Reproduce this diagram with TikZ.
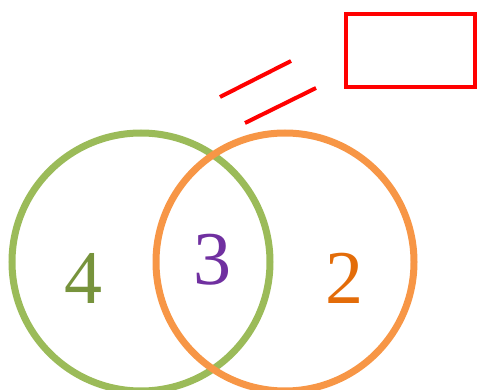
\documentclass[tikz,border=0pt]{standalone}
\usepackage{fontspec}
\setmainfont{Liberation Serif}
\definecolor{cgreen}{HTML}{9BBB59}
\definecolor{cgreentext}{HTML}{77933C}
\definecolor{corange}{HTML}{F79646}
\definecolor{corangetext}{HTML}{E36C09}
\definecolor{cpurple}{HTML}{7030A0}
\begin{document}
\begin{tikzpicture}[x=1pt,y=-1pt,
  ring/.style={line width=7pt},
  redline/.style={draw=red,line width=4pt},
  digit/.style={font=\fontsize{76}{80}\selectfont,inner sep=0pt,anchor=base}]
\useasboundingbox (0,0) rectangle (477,390);
\draw[ring,draw=cgreen] (141,262) circle[radius=129];
\draw[ring,draw=corange] (285,262) circle[radius=129];
\draw[redline] (346,14) rectangle (475,87);
\draw[redline] (220,97) -- (291,61);
\draw[redline] (245,123) -- (316,88);
\node[digit,text=cgreentext] (n4) at (83,304) {4};
\node[digit,text=cpurple] (n3) at (212,285) {3};
\node[digit,text=corangetext] (n2) at (344,304) {2};
\end{tikzpicture}
\end{document}
